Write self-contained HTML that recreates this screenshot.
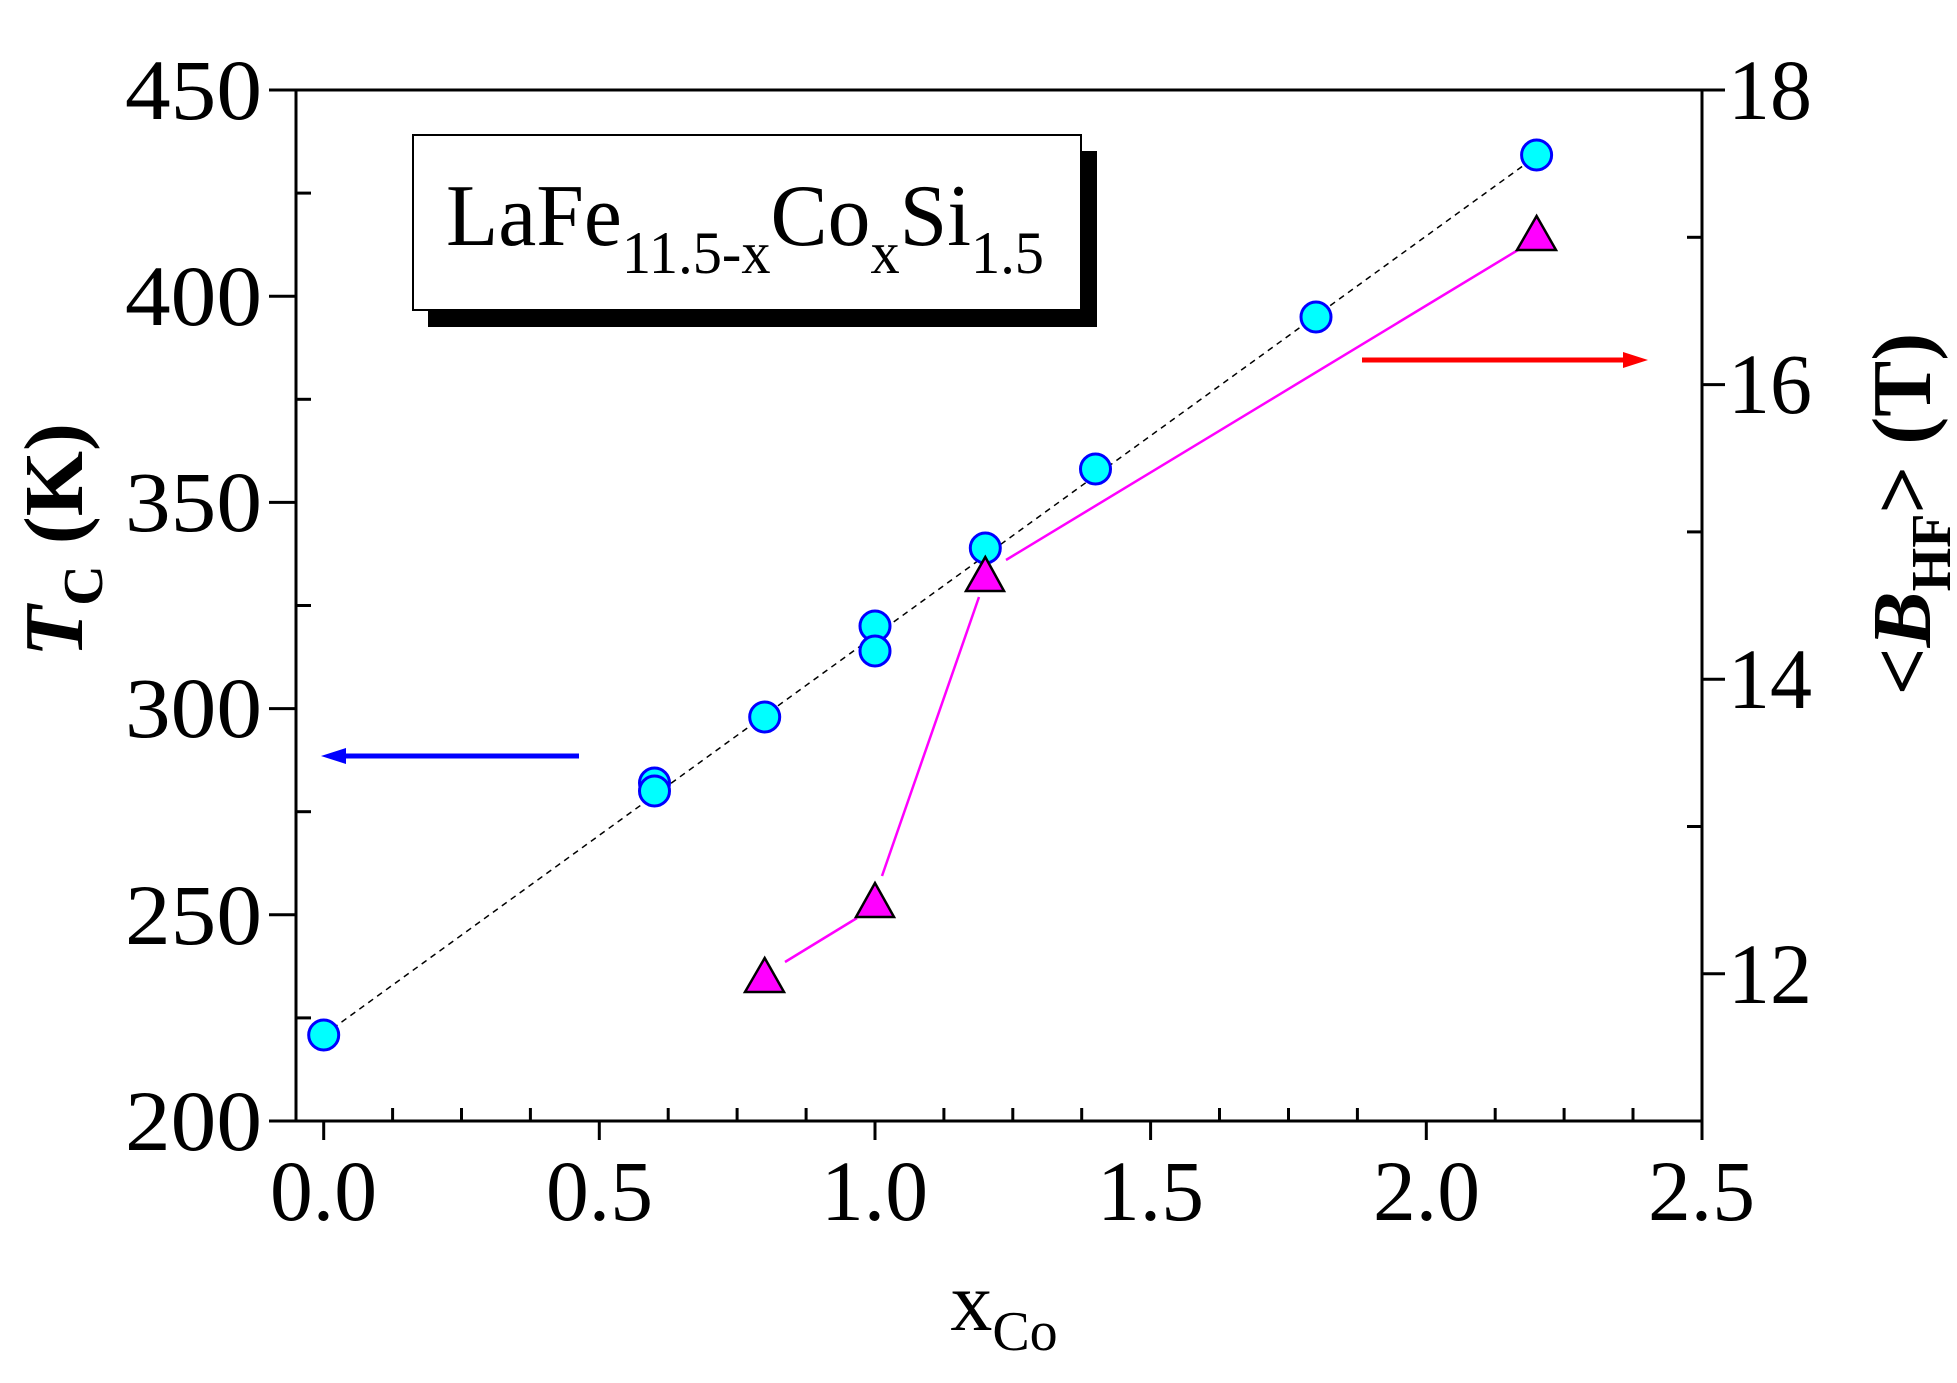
<!DOCTYPE html>
<html><head><meta charset="utf-8"><style>
html,body{margin:0;padding:0;background:#fff}
svg{display:block}
text{font-family:"Liberation Serif",serif;fill:#000}
</style></head><body>
<svg width="1957" height="1383" viewBox="0 0 1957 1383" xmlns="http://www.w3.org/2000/svg">
<rect width="1957" height="1383" fill="#fff"/>
<!-- legend box -->
<rect x="428" y="151" width="669" height="176" fill="#000"/>
<rect x="413" y="135" width="668" height="175" fill="#fff" stroke="#000" stroke-width="2"/>
<text x="446" y="245" font-size="88" textLength="598" lengthAdjust="spacingAndGlyphs">LaFe<tspan font-size="60" dy="28">11.5-x</tspan><tspan dy="-28">Co</tspan><tspan font-size="60" dy="28">x</tspan><tspan dy="-28">Si</tspan><tspan font-size="60" dy="28">1.5</tspan></text>
<!-- axes frame -->
<rect x="296" y="90" width="1406" height="1031" fill="none" stroke="#000" stroke-width="3"/>
<g stroke="#000" stroke-width="3">
<line x1="269" y1="90" x2="296" y2="90"/><line x1="269" y1="296.2" x2="296" y2="296.2"/><line x1="269" y1="502.4" x2="296" y2="502.4"/><line x1="269" y1="708.6" x2="296" y2="708.6"/><line x1="269" y1="914.8" x2="296" y2="914.8"/><line x1="269" y1="1121" x2="296" y2="1121"/>
<line x1="296" y1="193.1" x2="311" y2="193.1"/><line x1="296" y1="399.3" x2="311" y2="399.3"/><line x1="296" y1="605.5" x2="311" y2="605.5"/><line x1="296" y1="811.7" x2="311" y2="811.7"/><line x1="296" y1="1017.9" x2="311" y2="1017.9"/>
<line x1="1702" y1="90" x2="1725" y2="90"/><line x1="1702" y1="384.6" x2="1725" y2="384.6"/><line x1="1702" y1="679.2" x2="1725" y2="679.2"/><line x1="1702" y1="973.8" x2="1725" y2="973.8"/>
<line x1="1687" y1="237.3" x2="1702" y2="237.3"/><line x1="1687" y1="531.9" x2="1702" y2="531.9"/><line x1="1687" y1="826.5" x2="1702" y2="826.5"/>
<line x1="323.7" y1="1121" x2="323.7" y2="1140"/><line x1="599.3" y1="1121" x2="599.3" y2="1140"/><line x1="875" y1="1121" x2="875" y2="1140"/><line x1="1150.6" y1="1121" x2="1150.6" y2="1140"/><line x1="1426.3" y1="1121" x2="1426.3" y2="1140"/><line x1="1702" y1="1121" x2="1702" y2="1140"/>
<line x1="392.6" y1="1121" x2="392.6" y2="1108"/><line x1="461.5" y1="1121" x2="461.5" y2="1108"/><line x1="530.4" y1="1121" x2="530.4" y2="1108"/><line x1="668.2" y1="1121" x2="668.2" y2="1108"/><line x1="737.1" y1="1121" x2="737.1" y2="1108"/><line x1="806.1" y1="1121" x2="806.1" y2="1108"/><line x1="943.9" y1="1121" x2="943.9" y2="1108"/><line x1="1012.8" y1="1121" x2="1012.8" y2="1108"/><line x1="1081.7" y1="1121" x2="1081.7" y2="1108"/><line x1="1219.5" y1="1121" x2="1219.5" y2="1108"/><line x1="1288.5" y1="1121" x2="1288.5" y2="1108"/><line x1="1357.4" y1="1121" x2="1357.4" y2="1108"/><line x1="1495.2" y1="1121" x2="1495.2" y2="1108"/><line x1="1564.1" y1="1121" x2="1564.1" y2="1108"/><line x1="1633" y1="1121" x2="1633" y2="1108"/>
</g>
<!-- tick labels -->
<g font-size="86">
<text x="125" y="119" textLength="137" lengthAdjust="spacingAndGlyphs">450</text>
<text x="125" y="325" textLength="137" lengthAdjust="spacingAndGlyphs">400</text>
<text x="125" y="531" textLength="137" lengthAdjust="spacingAndGlyphs">350</text>
<text x="125" y="737" textLength="137" lengthAdjust="spacingAndGlyphs">300</text>
<text x="125" y="944" textLength="137" lengthAdjust="spacingAndGlyphs">250</text>
<text x="125" y="1150" textLength="137" lengthAdjust="spacingAndGlyphs">200</text>
<text x="1728" y="119" textLength="84" lengthAdjust="spacingAndGlyphs">18</text>
<text x="1728" y="413" textLength="84" lengthAdjust="spacingAndGlyphs">16</text>
<text x="1728" y="708" textLength="84" lengthAdjust="spacingAndGlyphs">14</text>
<text x="1728" y="1003" textLength="84" lengthAdjust="spacingAndGlyphs">12</text>
<text x="270" y="1220" textLength="107" lengthAdjust="spacingAndGlyphs">0.0</text>
<text x="546" y="1220" textLength="107" lengthAdjust="spacingAndGlyphs">0.5</text>
<text x="821" y="1220" textLength="107" lengthAdjust="spacingAndGlyphs">1.0</text>
<text x="1097" y="1220" textLength="107" lengthAdjust="spacingAndGlyphs">1.5</text>
<text x="1373" y="1220" textLength="107" lengthAdjust="spacingAndGlyphs">2.0</text>
<text x="1648" y="1220" textLength="107" lengthAdjust="spacingAndGlyphs">2.5</text>
</g>
<!-- axis titles -->
<text x="1004" y="1330" font-size="84" text-anchor="middle">x<tspan font-size="56" dy="20">Co</tspan></text>
<text transform="translate(82,540) rotate(-90)" font-size="84" font-weight="bold" text-anchor="middle"><tspan font-style="italic">T</tspan><tspan font-size="56" dy="20">C</tspan><tspan dy="-20"> (K)</tspan></text>
<text transform="translate(1930,514) rotate(-90)" font-size="84" font-weight="bold" text-anchor="middle">&lt;<tspan font-style="italic">B</tspan><tspan font-size="56" dy="20">HF</tspan><tspan dy="-20">&gt; (T)</tspan></text>
<!-- dashed fit line -->
<line x1="323.7" y1="1035" x2="1536.6" y2="156" stroke="#000" stroke-width="1.5" stroke-dasharray="6,5"/>
<!-- magenta lines -->
<g stroke="#ff00ff" stroke-width="2.5">
<line x1="785" y1="962" x2="857" y2="918"/>
<line x1="882" y1="876" x2="979" y2="597"/>
<line x1="1006" y1="560" x2="1518" y2="250"/>
</g>
<!-- arrows -->
<line x1="579" y1="756" x2="340" y2="756" stroke="#0000ff" stroke-width="5"/>
<polygon points="321,756 346,748 346,764" fill="#0000ff"/>
<line x1="1362" y1="360" x2="1628" y2="360" stroke="#ff0000" stroke-width="5"/>
<polygon points="1648,360 1623,352 1623,368" fill="#ff0000"/>
<!-- circles -->
<g fill="#00ffff" stroke="#0000ff" stroke-width="3">
<circle cx="323.7" cy="1035" r="15"/>
<circle cx="654.5" cy="783" r="15"/>
<circle cx="654.5" cy="791" r="15"/>
<circle cx="764.7" cy="717" r="15"/>
<circle cx="875" cy="626" r="15"/>
<circle cx="875" cy="651" r="15"/>
<circle cx="985.3" cy="548" r="15"/>
<circle cx="1095.5" cy="469" r="15"/>
<circle cx="1316" cy="317" r="15"/>
<circle cx="1536.6" cy="155" r="15"/>
</g>
<!-- triangles -->
<g fill="#ff00ff" stroke="#000" stroke-width="2.5">
<polygon points="764.7,958 745,992 784,992"/>
<polygon points="875,883 856,917 894,917"/>
<polygon points="985.3,557 966,591 1004,591"/>
<polygon points="1536.6,216 1517,250 1556,250"/>
</g>
</svg>
</body></html>
